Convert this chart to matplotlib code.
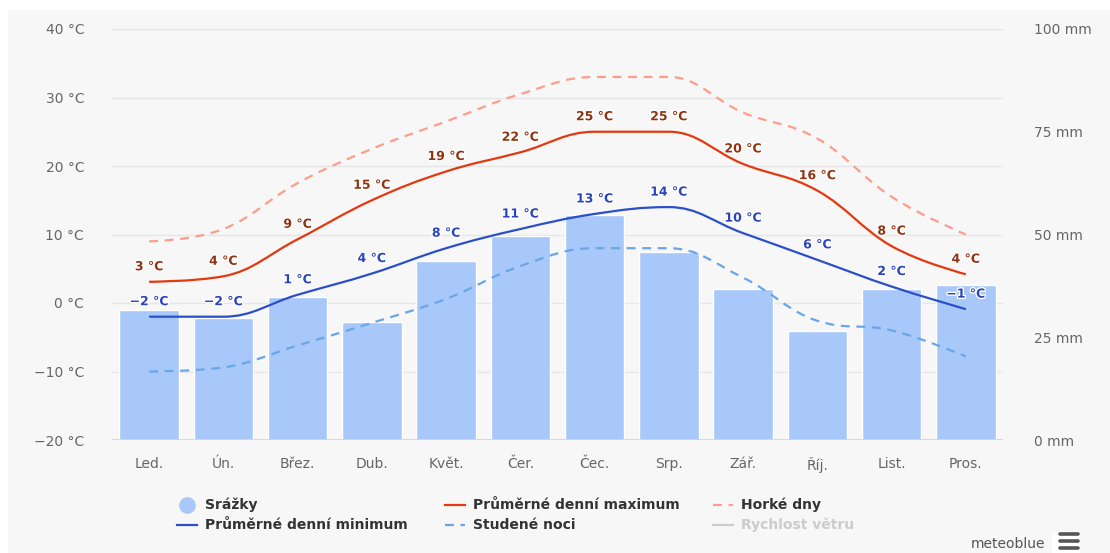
import matplotlib
matplotlib.use("Agg")
import matplotlib.pyplot as plt
import numpy as np
from matplotlib.lines import Line2D
from matplotlib.patches import PathPatch, Rectangle
from matplotlib.path import Path
import matplotlib.patheffects as pe

plt.rcParams["font.family"] = ["DejaVu Sans"]

months = ["Led.", "Ún.", "Břez.", "Dub.", "Květ.", "Čer.", "Čec.", "Srp.", "Zář.", "Říj.", "List.", "Pros."]
srazky = [31.6, 29.8, 34.8, 28.8, 43.6, 49.7, 54.7, 45.8, 36.7, 26.6, 36.7, 37.7]
t_max = [3.1, 3.9, 9.3, 15.0, 19.2, 22.0, 25.0, 25.0, 20.3, 16.4, 8.3, 4.2]
t_min = [-2.0, -2.0, 1.2, 4.3, 8.0, 10.8, 13.0, 14.0, 10.2, 6.3, 2.4, -0.9]
horke_dny = [9.0, 10.8, 17.5, 22.5, 26.5, 30.5, 33.0, 33.0, 27.8, 24.0, 15.5, 10.0]
studene_noci = [-10.0, -9.4, -6.2, -2.9, 0.6, 5.4, 8.0, 8.0, 3.7, -2.6, -4.0, -7.8]
temp_ticks = [-20, -10, 0, 10, 20, 30, 40]
mm_ticks = [0, 25, 50, 75, 100]

BG = "#f7f7f7"
C_BAR = "#a8c8fa"
C_MAX = "#e4380e"
C_MIN = "#2b4fc8"
C_HOT = "#ff9c8a"
C_COLD = "#6aa5e8"
TXT = "#666666"


def spline_path(xs, ys, smoothing=1.5):
    # highcharts-like spline: cubic bezier with control points from neighbours
    n = len(xs)
    lc = [None] * n
    rc = [None] * n
    for i in range(1, n - 1):
        px, py = xs[i], ys[i]
        lx, ly = xs[i - 1], ys[i - 1]
        nx, ny = xs[i + 1], ys[i + 1]
        d = smoothing + 1
        lcx, lcy = (smoothing * px + lx) / d, (smoothing * py + ly) / d
        rcx, rcy = (smoothing * px + nx) / d, (smoothing * py + ny) / d
        corr = ((rcy - lcy) * (rcx - px)) / (rcx - lcx) + py - rcy
        lcy += corr
        rcy += corr
        if lcy > ly and lcy > py:
            lcy = max(ly, py)
            rcy = 2 * py - lcy
        elif lcy < ly and lcy < py:
            lcy = min(ly, py)
            rcy = 2 * py - lcy
        if rcy > ny and rcy > py:
            rcy = max(ny, py)
            lcy = 2 * py - rcy
        elif rcy < ny and rcy < py:
            rcy = min(ny, py)
            lcy = 2 * py - rcy
        lc[i] = (lcx, lcy)
        rc[i] = (rcx, rcy)
    verts = [(xs[0], ys[0])]
    codes = [Path.MOVETO]
    for i in range(1, n):
        c1 = rc[i - 1] if rc[i - 1] is not None else (xs[i - 1], ys[i - 1])
        c2 = lc[i] if lc[i] is not None else (xs[i], ys[i])
        verts += [c1, c2, (xs[i], ys[i])]
        codes += [Path.CURVE4] * 3
    return Path(verts, codes)


W, H = 1110, 553
fig = plt.figure(figsize=(W / 100, H / 100), dpi=100)
fig.patch.set_facecolor("white")
fig.add_artist(Rectangle((8 / W, 0), 1, 1 - 10 / H, transform=fig.transFigure,
                         facecolor=BG, edgecolor="none", zorder=0))

ax = fig.add_axes([112 / W, 1 - 440 / H, (1003 - 112) / W, (440 - 29) / H])
ax.set_facecolor(BG)
ax.patch.set_alpha(0)
x = np.arange(len(months))

# temperature axis (grid + left labels)
ax.set_xlim(-0.5, len(months) - 0.5)
ax.set_ylim(-20, 40)
ax.set_yticks(temp_ticks)
ax.set_yticklabels([f"{t} °C".replace("-", "−") for t in temp_ticks])
for t in temp_ticks[1:]:
    ax.axhline(t, color="#e6e6e6", lw=1.0, zorder=0)
ax.set_xticks(x)
ax.set_xticklabels(months)
ax.tick_params(axis="y", length=0, pad=20, labelsize=10, labelcolor=TXT)
ax.tick_params(axis="x", length=0, pad=12, labelsize=10, labelcolor=TXT)
for s in ax.spines.values():
    s.set_visible(False)

# precipitation axis (bars + right labels)
axp = ax.twinx()
axp.set_ylim(0, 100)
axp.bar(x, srazky, width=0.8, color=C_BAR, edgecolor="white", linewidth=1.0, zorder=2)
axp.set_yticks(mm_ticks)
axp.set_yticklabels([f"{m} mm" for m in mm_ticks])
axp.tick_params(axis="y", length=0, pad=22, labelsize=10, labelcolor=TXT)
for s in axp.spines.values():
    s.set_visible(False)
axp.axhline(0, color="#ccd6eb", lw=2, zorder=3)

# lines on top
axl = ax.twinx()
axl.set_ylim(-20, 40)
axl.set_xlim(-0.5, len(months) - 0.5)
axl.axis("off")

for ys, col, ls in [(horke_dny, C_HOT, (0, (4, 3))),
                    (studene_noci, C_COLD, (0, (4, 3))),
                    (t_max, C_MAX, "-"),
                    (t_min, C_MIN, "-")]:
    axl.add_patch(PathPatch(spline_path(list(x), ys), facecolor="none", edgecolor=col,
                            lw=1.6, linestyle=ls, capstyle="butt", zorder=4))

outline = [pe.withStroke(linewidth=2.0, foreground="white")]
for ys, col in [(t_max, "#8e3412"), (t_min, "#2a44bd")]:
    for xi, v in zip(x, ys):
        lab = f"{int(round(v))} °C".replace("-", "−")
        axl.annotate(lab, (xi, v), xytext=(0, 15), textcoords="offset pixels",
                     ha="center", va="center", fontsize=9, fontweight="bold", color=col,
                     path_effects=outline, zorder=5)

# legend (drawn by hand, highcharts style)
def fx(px):
    return px / W


def fy(py):
    return 1 - py / H


legend = [
    ("circle", C_BAR, "-", "Srážky", "#333333", 177, 505),
    ("line", C_MIN, "-", "Průměrné denní minimum", "#333333", 177, 525),
    ("line", C_MAX, "-", "Průměrné denní maximum", "#333333", 445, 505),
    ("line", C_COLD, (0, (4, 3)), "Studené noci", "#333333", 445, 525),
    ("line", C_HOT, (0, (4, 3)), "Horké dny", "#333333", 713, 505),
    ("line", "#cccccc", "-", "Rychlost větru", "#cccccc", 713, 525),
]
for kind, col, ls, label, tcol, px, py in legend:
    if kind == "circle":
        fig.add_artist(Line2D([fx(px + 10)], [fy(py)], marker="o", markersize=11,
                              color=col, transform=fig.transFigure))
    else:
        fig.add_artist(Line2D([fx(px), fx(px + 20)], [fy(py), fy(py)], color=col, lw=1.6,
                              linestyle=ls, transform=fig.transFigure))
    fig.text(fx(px + 28), fy(py), label, fontsize=10, fontweight="bold", color=tcol,
             ha="left", va="center")

fig.text(fx(1045), fy(544), "meteoblue", fontsize=10, color="#555555", ha="right", va="center")
fig.add_artist(Rectangle((fx(1052), fy(555)), 28 / W, 22 / H, transform=fig.transFigure,
                         facecolor="white", edgecolor="none"))
for dy in (-7, 0, 7):
    fig.add_artist(Line2D([fx(1060), fx(1078)], [fy(541 + dy), fy(541 + dy)], color="#555555",
                          lw=2.6, solid_capstyle="round", transform=fig.transFigure))

fig.savefig("out.png", dpi=100, facecolor=fig.get_facecolor())
